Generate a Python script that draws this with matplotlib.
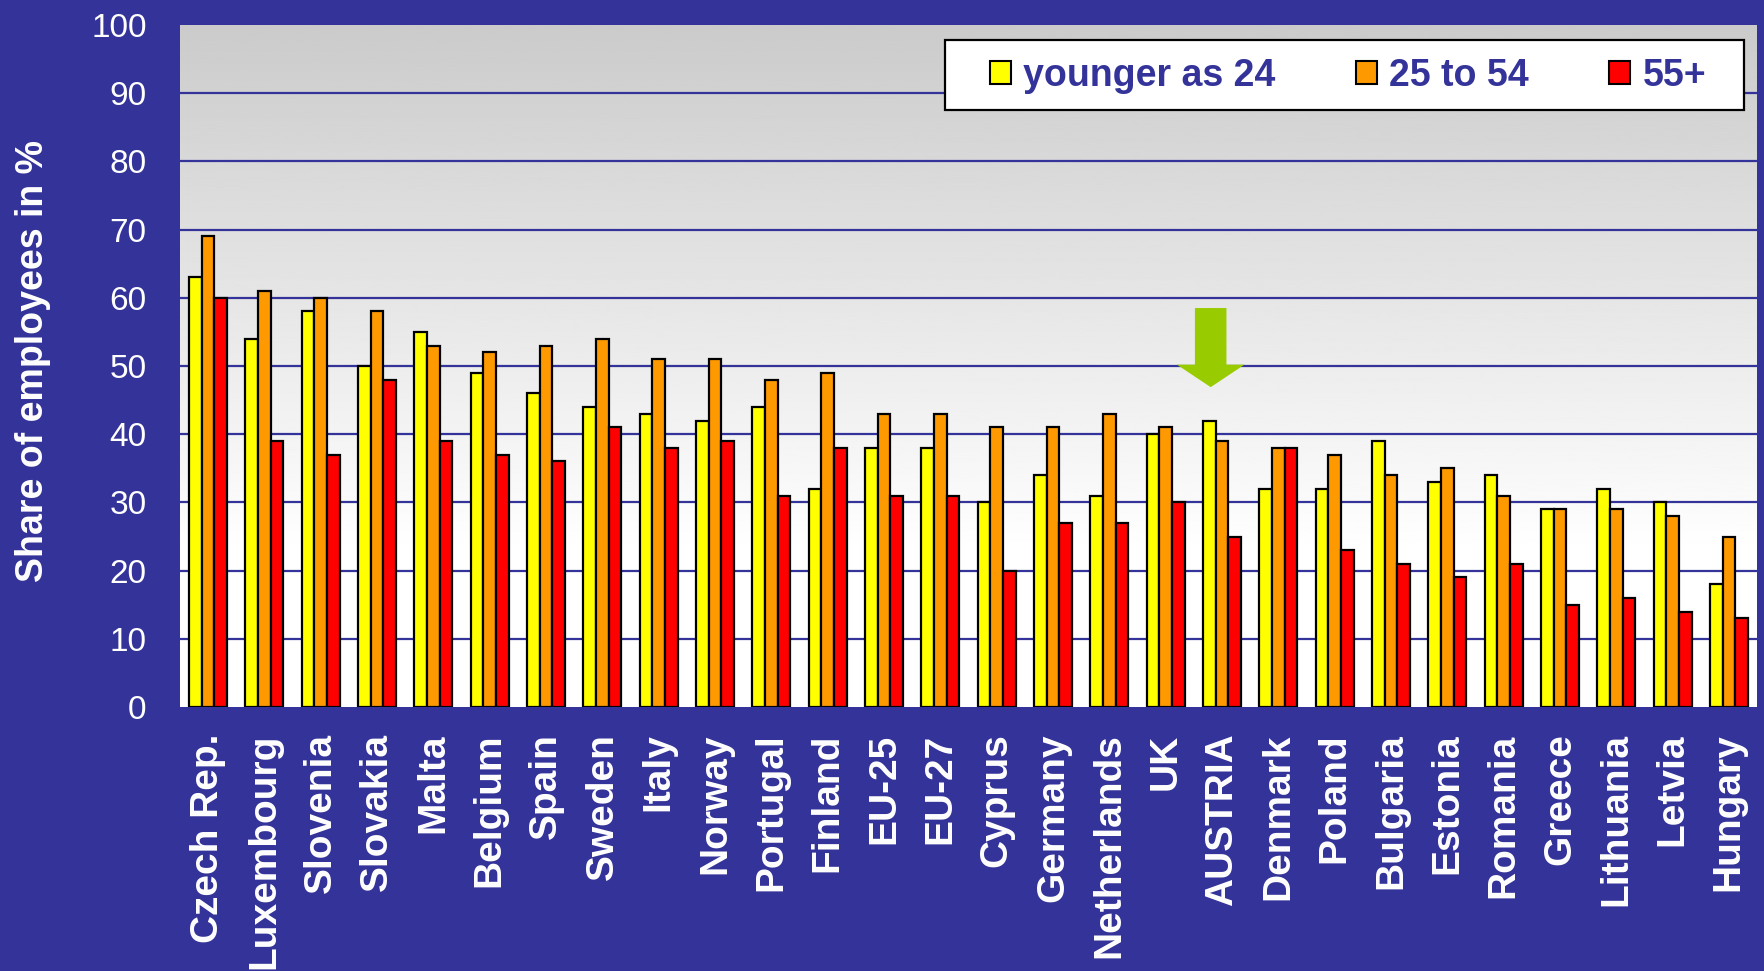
import numpy as np
import matplotlib

matplotlib.use("Agg")
import matplotlib.pyplot as plt
from matplotlib.patches import Patch, Polygon, Rectangle

plt.rcParams["font.family"] = ["Liberation Sans", "DejaVu Sans"]

countries = [
    "Czech Rep.", "Luxembourg", "Slovenia", "Slovakia", "Malta", "Belgium",
    "Spain", "Sweden", "Italy", "Norway", "Portugal", "Finland", "EU-25",
    "EU-27", "Cyprus", "Germany", "Netherlands", "UK", "AUSTRIA", "Denmark",
    "Poland", "Bulgaria", "Estonia", "Romania", "Greece", "Lithuania",
    "Letvia", "Hungary",
]
young = [63, 54, 58, 50, 55, 49, 46, 44, 43, 42, 44, 32, 38, 38, 30, 34, 31,
         40, 42, 32, 32, 39, 33, 34, 29, 32, 30, 18]
middle = [69, 61, 60, 58, 53, 52, 53, 54, 51, 51, 48, 49, 43, 43, 41, 41, 43,
          41, 39, 38, 37, 34, 35, 31, 29, 29, 28, 25]
older = [60, 39, 37, 48, 39, 37, 36, 41, 38, 39, 31, 38, 31, 31, 20, 27, 27,
         30, 25, 38, 23, 21, 19, 21, 15, 16, 14, 13]
series_labels = ["younger as 24", "25 to 54", "55+"]
highlight = "AUSTRIA"

NAVY = "#333399"
colors = ["#ffff00", "#ff9900", "#ff0000"]

W, H = 1764, 971
fig = plt.figure(figsize=(W / 100, H / 100), dpi=100, facecolor=NAVY)
ax = fig.add_axes([180 / W, 1 - 707 / H, 1577 / W, 682 / H])

# gray (top) to white (bottom) plot background
grad = np.clip(np.linspace(0.75, 1.0, 256) * 1.06, 0, 1).reshape(-1, 1)
ax.imshow(grad, cmap="gray", vmin=0, vmax=1, aspect="auto",
          extent=[0, 1, 0, 1], origin="upper", transform=ax.transAxes,
          zorder=0)

x = np.arange(len(countries))
width = 0.225
for i, (vals, col, lab) in enumerate(zip([young, middle, older], colors, series_labels)):
    ax.bar(x + (i - 1) * width, vals, width, color=col, edgecolor="black",
           linewidth=1.6, zorder=3, label=lab)

for yv in range(10, 100, 10):
    ax.axhline(yv, color=NAVY, linewidth=1.6, zorder=1)

# green arrow pointing at Austria
xa = countries.index(highlight) - 0.2
shaft, head = 0.28, 0.6
arrow = Polygon([(xa - shaft, 58.5), (xa + shaft, 58.5), (xa + shaft, 50.2),
                 (xa + head, 50.2), (xa, 46.9), (xa - head, 50.2),
                 (xa - shaft, 50.2)], closed=True, facecolor="#99cc00",
                edgecolor="none", zorder=4)
ax.add_patch(arrow)

ax.set_xlim(-0.5, len(countries) - 0.5)
ax.set_ylim(0, 100)
ax.set_yticks(range(0, 101, 10))
ax.set_xticks(x)
ax.set_xticklabels(countries, rotation=90, fontsize=28, fontweight="bold",
                   color="white")
ax.tick_params(axis="x", length=0, pad=19)
ax.tick_params(axis="y", length=0, pad=24, labelsize=24, labelcolor="white")
for s in ax.spines.values():
    s.set_visible(False)

fig.text(33 / W, 1 - 361 / H, "Share of employees in %", rotation=90,
         ha="center", va="center", color="white", fontsize=27,
         fontweight="bold")

# legend box
box = Rectangle((945 / W, 1 - 110 / H), 799 / W, 70 / H,
                transform=fig.transFigure, facecolor="white",
                edgecolor="black", linewidth=1.6, zorder=5)
fig.add_artist(box)
handles = [Patch(facecolor=c, edgecolor="black", linewidth=1.5) for c in colors]
leg = fig.legend(handles, series_labels, loc="center left",
                 bbox_to_anchor=(990 / W, 1 - 76 / H), ncol=3, frameon=False,
                 borderaxespad=0, borderpad=0,
                 handlelength=0.55, handleheight=0.55, handletextpad=0.33,
                 columnspacing=2.15, prop={"size": 27, "weight": "bold"})
for t in leg.get_texts():
    t.set_color(NAVY)
leg.set_zorder(6)

fig.savefig("out.png", dpi=100, facecolor=NAVY)
